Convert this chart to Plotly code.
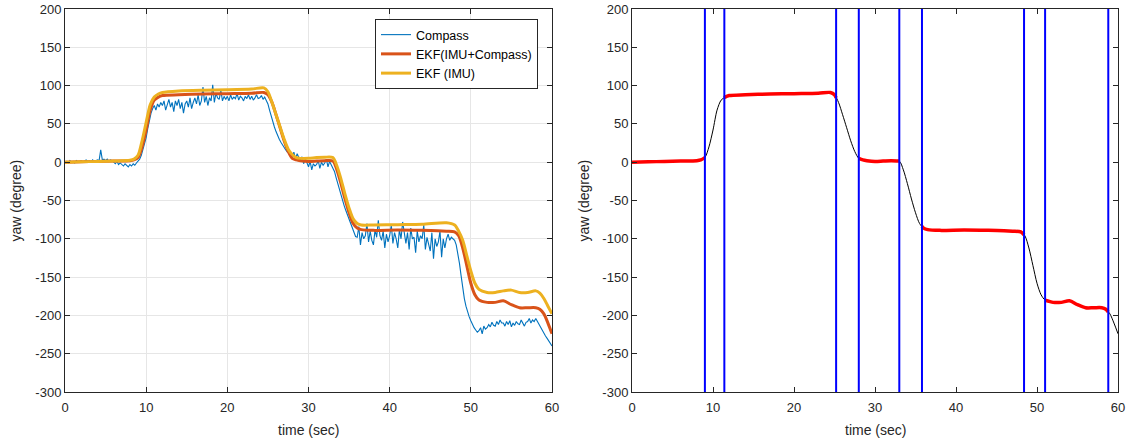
import numpy as np
import plotly.graph_objects as go

# ---------------- data ----------------
compass_dt = 0.2
compass = [
    0, 1, -1, 2, 0,   1, -1, 2, 0, 1,   2, 0, 1, 3, 1,   2, 0, 3, 1, 2,   3, 2, 16, 3, 4,
    2, 4, 1, 3, 2,   0, -2, 1, -3, -1,   -3, -5, -2, -4, -6,   -3, -5, -2, -4, -1,   1, 4, 9, 16, 24,
    32, 44, 56, 64, 70,   74, 68, 76, 72, 78,   74, 80, 68, 76, 82,   72, 78, 66, 80, 74,   82, 70, 78, 64, 76,
    80, 72, 84, 70, 78,   84, 76, 88, 74, 80,   98, 78, 86, 74, 84,   80, 101, 78, 90, 84,   82, 94, 80, 86, 82,
    86, 80, 88, 82, 85,   83, 90, 81, 86, 84,   80, 86, 83, 88, 82,   86, 81, 84, 88, 83,   84, 87, 82, 85, 80,
    76, 68, 60, 52, 46,   40, 34, 30, 26, 22,   19, 16, 13, 15, 10,   8, 13, 4, 11, 6,   2, 7, -2, 5, 0,
    -6, 1, -10, -2, -5,   -3, 2, -8, 0, -4,   -1, 4, -6, 1, -3,   -7, -12, -20, -28, -36,   -42, -50, -57, -63, -69,
    -75, -80, -86, -92, -97,   -98, -84, -108, -92, -100,   -96, -80, -104, -90, -102,   -108, -88, -98, -76, -96,   -102, -90, -112, -94, -104,
    -96, -82, -106, -92, -100,   -112, -88, -100, -78, -96,   -106, -92, -114, -86, -100,   -98, -118, -90, -104, -96,   -100, -82, -114, -98, -108,
    -116, -92, -126, -100, -110,   -104, -90, -124, -100, -112,   -100, -94, -102, -98, -100,   -102, -108, -118, -132, -148,   -164, -178, -188, -196, -202,
    -207, -212, -216, -219, -222,   -220, -216, -224, -214, -218,   -216, -212, -215, -209, -213,   -214, -208, -212, -206, -210,   -210, -214, -208, -212, -207,
    -215, -210, -213, -208, -211,   -212, -206, -210, -214, -209,   -208, -204, -210, -206, -208,   -204, -208, -212, -216, -220,   -224, -227, -230, -234, -237,
    -240,
]
compass_t = [round(i * compass_dt, 3) for i in range(len(compass))]

ekf_t = [0, 2, 4, 6, 8, 8.5, 9, 9.5, 10, 10.5, 11, 11.5, 12, 14, 17, 20, 23, 24.5,
         25, 25.5, 26, 26.5, 27, 27.5, 28, 28.5, 29, 30, 31, 32, 33, 33.5, 34, 34.5,
         35, 35.5, 36, 36.5, 38, 41, 44, 47, 48, 48.5, 49, 49.5, 50, 50.5, 51, 52,
         53, 54, 55, 56, 57, 58, 58.5, 59, 59.5, 60]

ekf_imu_compass = [0, 0.5, 1, 1.5, 2, 3, 6, 20, 42, 68, 81, 85, 87, 88, 89, 89.5, 90, 91,
                   88, 78, 62, 45, 28, 14, 5, 3, 2, 1, 1.5, 2, 1.5, -10, -28, -48,
                   -66, -80, -86, -88, -89, -88.5, -89, -90, -91, -96, -112, -135, -158, -173, -180, -183,
                   -183, -181, -186, -190, -190, -190, -192, -198, -210, -224]

ekf_imu = [0, 0.5, 1, 1.5, 2.5, 4, 9, 28, 52, 75, 85, 89, 91, 93, 94, 94.5, 95.5, 97,
           92, 78, 62, 46, 30, 17, 10, 6, 5, 5, 6, 6.5, 6, -5, -22, -42,
           -60, -74, -80, -82, -82, -81.5, -81, -79, -82, -90, -102, -122, -142, -158, -166, -170,
           -170, -168, -167, -170, -170, -168, -171, -178, -188, -198]

# switching instants (right plot)
switch_t = [9.0, 11.4, 25.2, 28.0, 33.0, 35.8, 48.4, 51.0, 58.8]
# intervals where compass is used (red)
red_segments = [(0, 9.0), (11.4, 25.2), (28.0, 33.0), (35.8, 48.4), (51.0, 58.8)]

x_ticks = [0, 10, 20, 30, 40, 50, 60]
y_ticks = [-300, -250, -200, -150, -100, -50, 0, 50, 100, 150, 200]

x_title = "time (sec)"
y_title = "yaw (degree)"

# ---------------- figure ----------------
C_BLUE = "#0072BD"
C_ORANGE = "#D95319"
C_YELLOW = "#EDB120"
AX = "#262626"
FONT = "Liberation Sans, Arial, sans-serif"

fig = go.Figure()

fig.add_trace(go.Scatter(x=compass_t, y=compass, mode="lines", name="Compass",
                         line=dict(color=C_BLUE, width=1.1), xaxis="x", yaxis="y"))
fig.add_trace(go.Scatter(x=ekf_t, y=ekf_imu_compass, mode="lines", name="EKF(IMU+Compass)",
                         line=dict(color=C_ORANGE, width=3, shape="spline", smoothing=0.8),
                         xaxis="x", yaxis="y"))
fig.add_trace(go.Scatter(x=ekf_t, y=ekf_imu, mode="lines", name="EKF (IMU)",
                         line=dict(color=C_YELLOW, width=3, shape="spline", smoothing=0.8),
                         xaxis="x", yaxis="y"))

# right plot: black full curve
fig.add_trace(go.Scatter(x=ekf_t, y=ekf_imu_compass, mode="lines", showlegend=False,
                         line=dict(color="black", width=1, shape="spline", smoothing=0.8),
                         xaxis="x2", yaxis="y2"))
# red segments
et = np.array(ekf_t, dtype=float)
ev = np.array(ekf_imu_compass, dtype=float)
for a, b in red_segments:
    inside = (et > a) & (et < b)
    xs = [a] + list(et[inside]) + [b]
    ys = [float(np.interp(a, et, ev))] + list(ev[inside]) + [float(np.interp(b, et, ev))]
    fig.add_trace(go.Scatter(x=xs, y=ys, mode="lines", showlegend=False,
                             line=dict(color="#FF0000", width=3.5, shape="spline", smoothing=0.8),
                             xaxis="x2", yaxis="y2"))
# vertical switching lines
vx, vy = [], []
for t in switch_t:
    vx += [t, t, None]
    vy += [y_ticks[0], y_ticks[-1], None]
fig.add_trace(go.Scatter(x=vx, y=vy, mode="lines", showlegend=False,
                         line=dict(color="#0000FF", width=2), xaxis="x2", yaxis="y2"))

W, H = 1131, 444
PT, PB = 9, 392  # plot area top / bottom in px
axis_common = dict(showline=True, linecolor=AX, linewidth=1, mirror="ticks",
                   ticks="inside", ticklen=5, tickcolor=AX, zeroline=False,
                   automargin=False,
                   tickfont=dict(family=FONT, size=13, color=AX))
xtext = [str(v) for v in x_ticks]
ytext = [str(v) for v in y_ticks]

title_font = dict(family=FONT, size=14, color=AX)
ph = PB - PT
annotations = [
    dict(text=x_title, xref="paper", yref="paper", x=(65 + 552) / 2 / W, y=-(430 - PB) / ph,
         xanchor="center", yanchor="middle", showarrow=False, font=title_font),
    dict(text=x_title, xref="paper", yref="paper", x=(632 + 1118) / 2 / W, y=-(430 - PB) / ph,
         xanchor="center", yanchor="middle", showarrow=False, font=title_font),
    dict(text=y_title, xref="paper", yref="paper", x=15 / W, y=0.5, textangle=-90,
         xanchor="center", yanchor="middle", showarrow=False, font=title_font),
    dict(text=y_title, xref="paper", yref="paper", x=583 / W, y=0.5, textangle=-90,
         xanchor="center", yanchor="middle", showarrow=False, font=title_font),
]

fig.update_layout(
    template="none",
    width=W, height=H,
    margin=dict(l=0, r=0, t=PT, b=H - PB),
    paper_bgcolor="white", plot_bgcolor="white",
    font=dict(family=FONT, size=13, color=AX),
    showlegend=True,
    xaxis=dict(domain=[65 / W, 552 / W], range=[0, 60], tickvals=x_ticks, ticktext=xtext,
               showgrid=True, gridcolor="#e6e6e6", anchor="y", ticklabelstandoff=3,
               **axis_common),
    yaxis=dict(domain=[0, 1], range=[-300, 200], tickvals=y_ticks, ticktext=ytext,
               showgrid=True, gridcolor="#e6e6e6", anchor="x", **axis_common),
    xaxis2=dict(domain=[632 / W, 1118 / W], range=[0, 60], tickvals=x_ticks, ticktext=xtext,
                showgrid=False, anchor="y2", ticklabelstandoff=3, **axis_common),
    yaxis2=dict(domain=[0, 1], range=[-300, 200], tickvals=y_ticks, ticktext=ytext,
                showgrid=False, anchor="x2", **axis_common),
    annotations=annotations,
    legend=dict(x=538 / W, xanchor="right", y=1 - (19 - PT) / ph, yanchor="top",
                bgcolor="white", bordercolor=AX, borderwidth=1,
                font=dict(family=FONT, size=12.5, color="black"), tracegroupgap=0),
)

fig.write_html("out.html")
